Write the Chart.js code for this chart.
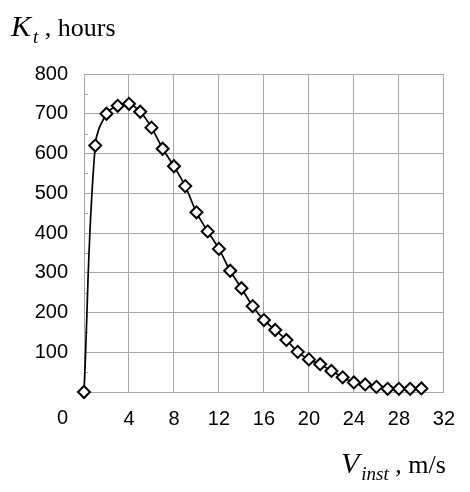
<!DOCTYPE html>
<html>
<head>
<meta charset="utf-8">
<script src="https://cdn.jsdelivr.net/npm/chart.js@4/dist/chart.umd.min.js"></script>
<style>
  html, body { margin: 0; padding: 0; background: #fff; }
  #wrap { position: relative; width: 470px; height: 492px; }
  canvas { position: absolute; left: 0; top: 0; }
  .ttl { position: absolute; font-family: "Liberation Serif", "Times New Roman", serif; color: #000; white-space: nowrap; line-height: 1; }
  .big { font-style: italic; font-size: 30px; }
  .sub { font-style: italic; font-size: 19px; position: relative; top: 7px; margin-left: 2px; }
  .rest { font-size: 26px; }
</style>
</head>
<body>
<div id="wrap">
  <canvas id="c" width="470" height="492"></canvas>
  <div class="ttl" id="ytitle" style="left:11px; top:11px;"><span class="big">K</span><span class="sub">t</span><span class="rest">&nbsp;, hours</span></div>
  <div class="ttl" id="xtitle" style="left:341px; top:448px;"><span class="big">V</span><span class="sub">inst</span><span class="rest">&nbsp;, m/s</span></div>
</div>
<script>
const windSpeed = [0, 1, 2, 3, 4, 5, 6, 7, 8, 9, 10, 11, 12, 13, 14, 15, 16, 17, 18, 19, 20, 21, 22, 23, 24, 25, 26, 27, 28, 29, 30];
const hours = [0, 620, 700, 720, 725, 705, 665, 612, 568, 518, 452, 404, 360, 305, 261, 216, 181, 156, 131, 101, 82, 70, 53, 37, 24, 19, 13, 8, 8, 8, 9];
const xTicks = [0, 4, 8, 12, 16, 20, 24, 28, 32];
const yTicks = [0, 100, 200, 300, 400, 500, 600, 700, 800];

const points = windSpeed.map((v, i) => ({ x: v, y: hours[i] }));
const gridColor = '#a6a6a6';
const tickFont = { family: '"Liberation Sans", Arial, sans-serif', size: 20 };

const zeroLabel = {
  id: 'zeroLabel',
  afterDraw(chart) {
    const ctx = chart.ctx;
    const ys = chart.scales.y;
    const xs = chart.scales.x;
    ctx.save();
    ctx.font = '20px "Liberation Sans", Arial, sans-serif';
    ctx.fillStyle = '#000';
    ctx.textAlign = 'right';
    ctx.textBaseline = 'middle';
    ctx.fillText('0', ys.right - 16, xs.top + 26);
    ctx.restore();
  },
  beforeDatasetsDraw(chart) {
    const ctx = chart.ctx;
    const ys = chart.scales.y;
    ctx.save();
    ctx.strokeStyle = gridColor;
    ctx.lineWidth = 1;
    for (let i = 0; i < yTicks.length - 1; i++) {
      const v = (yTicks[i] + yTicks[i + 1]) / 2;
      const py = Math.round(ys.getPixelForValue(v)) + 0.5;
      ctx.beginPath();
      ctx.moveTo(chart.chartArea.left, py);
      ctx.lineTo(chart.chartArea.left + 4, py);
      ctx.stroke();
    }
    ctx.restore();
  }
};

new Chart(document.getElementById('c'), {
  type: 'scatter',
  data: {
    datasets: [{
      data: points,
      showLine: true,
      clip: false,
      borderColor: '#000',
      borderWidth: 1.7,
      tension: 0.4,
      pointStyle: 'rectRot',
      pointRadius: 6,
      pointBackgroundColor: '#fff',
      pointBorderColor: '#000',
      pointBorderWidth: 2
    }]
  },
  options: {
    responsive: false,
    animation: false,
    events: [],
    layout: { padding: { left: 0, right: 14, top: 74, bottom: 60 } },
    plugins: { legend: { display: false }, tooltip: { enabled: false } },
    scales: {
      x: {
        type: 'linear',
        min: xTicks[0],
        max: xTicks[xTicks.length - 1],
        afterBuildTicks: (s) => { s.ticks = xTicks.map(v => ({ value: v })); },
        afterFit: (s) => { s.height = 40; },
        grid: { color: gridColor, lineWidth: 1, drawTicks: false },
        border: { color: gridColor, width: 1 },
        ticks: {
          color: '#000',
          font: tickFont,
          padding: 15,
          maxRotation: 0,
          callback: (v) => (v === 0 ? '' : String(v))
        }
      },
      y: {
        type: 'linear',
        min: yTicks[0],
        max: yTicks[yTicks.length - 1],
        afterBuildTicks: (s) => { s.ticks = yTicks.map(v => ({ value: v })); },
        afterFit: (s) => { s.width = 84; },
        grid: { color: gridColor, lineWidth: 1, drawTicks: false },
        border: { color: gridColor, width: 1 },
        ticks: {
          color: '#000',
          font: tickFont,
          padding: 16,
          callback: (v) => (v === 0 ? '' : String(v))
        }
      }
    }
  },
  plugins: [zeroLabel]
});
</script>
</body>
</html>
